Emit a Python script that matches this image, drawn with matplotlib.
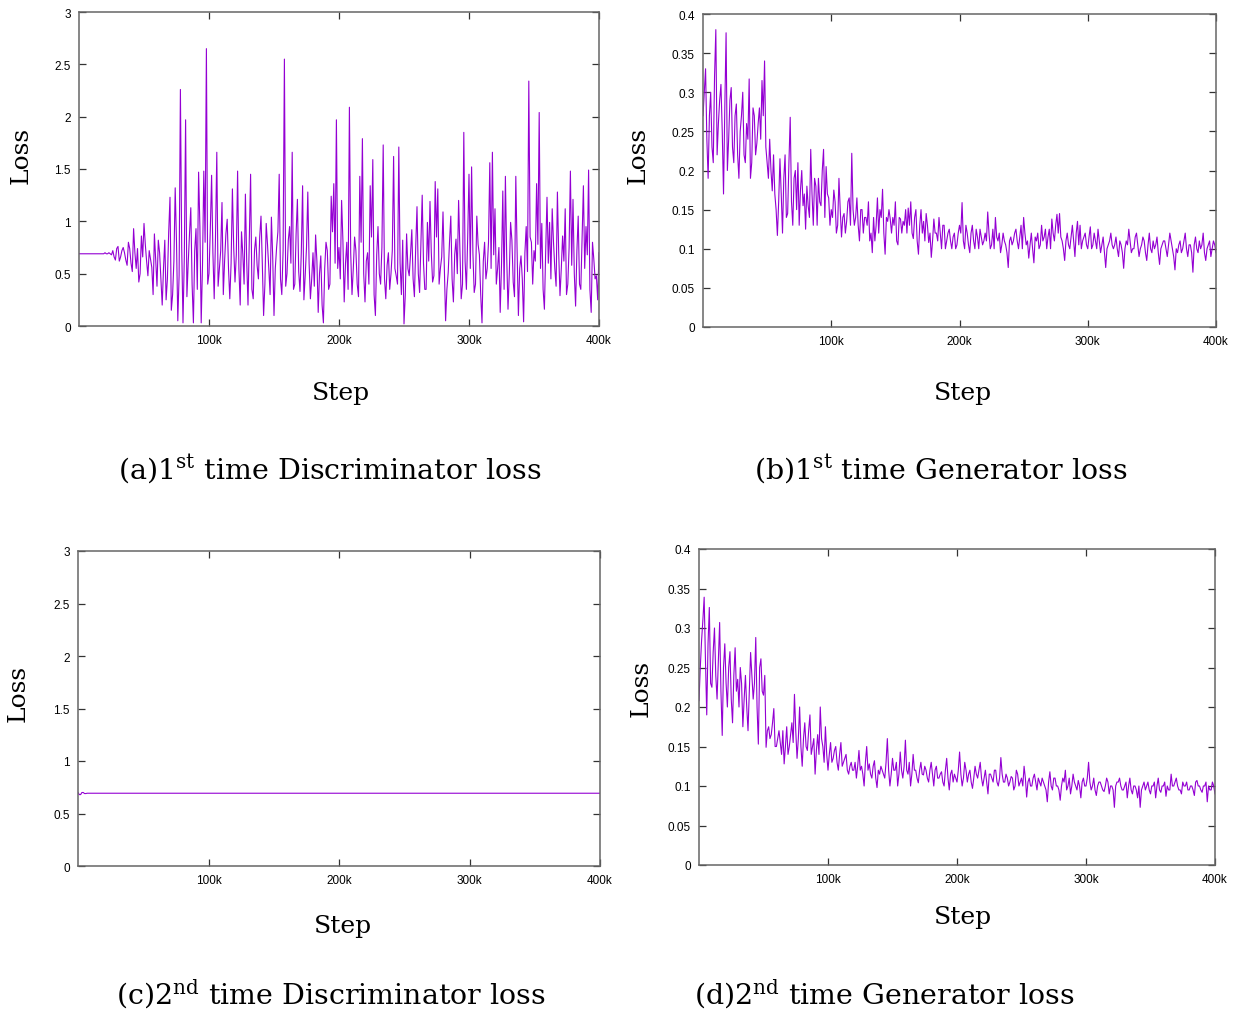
import numpy as np
import matplotlib
matplotlib.use("Agg")
import matplotlib.pyplot as plt

# ─────────────────────────────────────────
# Data
# even 2k steps in *_loss_*, the 1k in-between points in *_mid
# ─────────────────────────────────────────

steps = np.arange(0, 400001, 1000)

disc_loss_1 = [
    0.69, 0.69, 0.69, 0.69, 0.69, 0.69, 0.69, 0.69, 0.69, 0.69,
    0.70, 0.69, 0.69, 0.72, 0.63, 0.76, 0.66, 0.75, 0.63, 0.80,
    0.60, 0.93, 0.55, 0.42, 0.86, 0.98, 0.62, 0.72, 0.56, 0.88,
    0.38, 0.70, 0.20, 0.82, 0.45, 1.23, 0.30, 1.32, 0.05, 2.26,
    0.03, 1.97, 0.60, 1.13, 0.03, 0.93, 1.47, 0.03, 1.48, 2.65,
    0.50, 1.44, 0.26, 1.66, 0.55, 1.18, 0.62, 1.02, 0.26, 1.31,
    0.42, 1.48, 0.20, 0.69, 1.26, 0.20, 1.45, 0.26, 0.85, 0.45,
    1.05, 0.10, 0.98, 0.55, 1.04, 0.10, 0.75, 1.45, 0.30, 2.55,
    0.50, 0.95, 1.66, 0.40, 1.21, 0.33, 1.34, 0.48, 1.28, 0.26,
    0.70, 0.87, 0.13, 0.67, 0.03, 0.80, 0.35, 1.24, 1.36, 1.97,
    0.75, 1.20, 0.23, 0.80, 2.09, 0.30, 0.85, 0.40, 1.43, 1.79,
    0.23, 0.70, 1.34, 1.59, 0.10, 0.95, 0.40, 1.73, 0.26, 0.70,
    0.50, 1.62, 0.48, 1.71, 0.30, 0.02, 0.88, 0.48, 0.92, 0.28,
    1.14, 0.32, 1.25, 0.35, 0.99, 1.19, 0.42, 1.38, 1.31, 0.55,
    1.09, 0.05, 0.51, 1.05, 0.23, 0.83, 1.20, 0.26, 1.85, 0.35,
    1.45, 1.52, 0.32, 1.05, 0.68, 0.03, 0.80, 0.55, 1.56, 1.66,
    1.12, 0.55, 0.13, 1.29, 1.43, 0.16, 0.99, 0.42, 1.43, 0.10,
    0.67, 0.04, 0.95, 2.34, 0.80, 0.72, 1.36, 2.04, 0.98, 0.16,
    1.23, 0.99, 1.12, 0.55, 1.28, 0.29, 0.86, 1.12, 0.40, 1.48,
    1.21, 0.19, 1.05, 0.35, 1.34, 0.95, 1.49, 0.13, 0.64, 0.48,
    0.70,
]
disc_mid_1 = [
    0.69, 0.69, 0.69, 0.69, 0.69, 0.69, 0.69, 0.69, 0.69, 0.69,
    0.69, 0.70, 0.68, 0.66, 0.74, 0.62, 0.72, 0.70, 0.58, 0.74,
    0.52, 0.70, 0.74, 0.50, 0.66, 0.78, 0.48, 0.64, 0.30, 0.62,
    0.82, 0.46, 0.55, 0.25, 0.90, 0.15, 0.62, 0.80, 0.48, 0.75,
    0.65, 0.28, 0.88, 0.40, 0.72, 0.35, 0.95, 0.58, 0.80, 0.40,
    0.92, 0.70, 0.85, 0.38, 0.72, 0.30, 0.88, 0.55, 0.60, 0.75,
    0.68, 0.55, 0.90, 0.40, 0.62, 0.80, 0.35, 0.72, 0.58, 0.85,
    0.60, 0.40, 0.78, 0.30, 0.66, 0.55, 0.90, 0.45, 0.72, 0.38,
    0.82, 0.60, 0.35, 0.88, 0.52, 0.70, 0.25, 0.75, 0.60, 0.45,
    0.38, 0.62, 0.50, 0.20, 0.55, 0.72, 0.40, 0.90, 0.60, 0.55,
    0.45, 0.82, 0.60, 0.35, 0.70, 0.55, 0.72, 0.28, 0.80, 0.50,
    0.62, 0.40, 0.85, 0.30, 0.68, 0.50, 0.75, 0.45, 0.58, 0.35,
    0.72, 0.55, 0.40, 0.60, 0.82, 0.30, 0.55, 0.68, 0.45, 0.75,
    0.50, 0.78, 0.60, 0.35, 0.62, 0.70, 0.48, 0.85, 0.40, 0.66,
    0.58, 0.35, 0.80, 0.45, 0.68, 0.50, 0.72, 0.40, 0.62, 0.85,
    0.55, 0.70, 0.40, 0.78, 0.30, 0.62, 0.45, 0.80, 0.55, 0.68,
    0.40, 0.75, 0.58, 0.35, 0.66, 0.50, 0.82, 0.28, 0.72, 0.55,
    0.45, 0.70, 0.52, 0.85, 0.40, 0.62, 0.78, 0.55, 0.35, 0.72,
    0.60, 0.45, 0.80, 0.38, 0.70, 0.55, 0.62, 0.30, 0.75, 0.58,
    0.50, 0.72, 0.40, 0.85, 0.55, 0.68, 0.35, 0.80, 0.45, 0.25,
]

gen_loss_1 = [
    0.27, 0.33, 0.19, 0.30, 0.21, 0.38, 0.26, 0.31, 0.17, 0.376,
    0.24, 0.306, 0.21, 0.285, 0.19, 0.27, 0.22, 0.26, 0.317, 0.21,
    0.27, 0.235, 0.28, 0.315, 0.34, 0.21, 0.24, 0.174, 0.17, 0.117,
    0.215, 0.12, 0.22, 0.145, 0.268, 0.13, 0.20, 0.21, 0.175, 0.155,
    0.125, 0.155, 0.227, 0.13, 0.18, 0.19, 0.155, 0.227, 0.205, 0.165,
    0.15, 0.175, 0.12, 0.19, 0.115, 0.145, 0.135, 0.165, 0.222, 0.13,
    0.165, 0.11, 0.15, 0.14, 0.13, 0.11, 0.095, 0.11, 0.165, 0.15,
    0.176, 0.093, 0.135, 0.138, 0.14, 0.16, 0.105, 0.138, 0.135, 0.15,
    0.152, 0.16, 0.113, 0.15, 0.093, 0.15, 0.135, 0.145, 0.108, 0.089,
    0.138, 0.12, 0.14, 0.10, 0.13, 0.11, 0.125, 0.10, 0.12, 0.105,
    0.13, 0.159, 0.10, 0.12, 0.095, 0.13, 0.10, 0.115, 0.125, 0.105,
    0.12, 0.147, 0.10, 0.125, 0.14, 0.11, 0.095, 0.12, 0.105, 0.076,
    0.115, 0.11, 0.125, 0.10, 0.13, 0.14, 0.105, 0.088, 0.12, 0.082,
    0.11, 0.10, 0.13, 0.115, 0.10, 0.125, 0.138, 0.11, 0.144, 0.145,
    0.11, 0.085, 0.12, 0.10, 0.13, 0.09, 0.135, 0.13, 0.11, 0.12,
    0.10, 0.128, 0.105, 0.11, 0.125, 0.095, 0.115, 0.076, 0.105, 0.12,
    0.10, 0.115, 0.09, 0.105, 0.075, 0.11, 0.125, 0.095, 0.10, 0.12,
    0.09, 0.105, 0.11, 0.085, 0.12, 0.095, 0.10, 0.115, 0.08, 0.105,
    0.11, 0.09, 0.12, 0.10, 0.073, 0.095, 0.11, 0.10, 0.12, 0.09,
    0.105, 0.07, 0.115, 0.095, 0.10, 0.12, 0.085, 0.105, 0.09, 0.11,
    0.095,
]
gen_mid_1 = [
    0.30, 0.24, 0.27, 0.23, 0.32, 0.22, 0.29, 0.25, 0.28, 0.20,
    0.29, 0.23, 0.27, 0.22, 0.25, 0.30, 0.21, 0.24, 0.19, 0.28,
    0.22, 0.26, 0.24, 0.27, 0.23, 0.19, 0.20, 0.22, 0.15, 0.16,
    0.17, 0.19, 0.14, 0.21, 0.16, 0.19, 0.15, 0.13, 0.20, 0.17,
    0.18, 0.14, 0.17, 0.19, 0.13, 0.16, 0.20, 0.14, 0.17, 0.13,
    0.14, 0.16, 0.13, 0.15, 0.14, 0.12, 0.16, 0.13, 0.15, 0.14,
    0.13, 0.15, 0.12, 0.14, 0.16, 0.12, 0.14, 0.13, 0.12, 0.14,
    0.12, 0.14, 0.15, 0.12, 0.13, 0.11, 0.14, 0.12, 0.13, 0.12,
    0.13, 0.12, 0.14, 0.11, 0.13, 0.12, 0.11, 0.13, 0.12, 0.11,
    0.12, 0.11, 0.12, 0.13, 0.10, 0.12, 0.11, 0.115, 0.10, 0.12,
    0.12, 0.11, 0.13, 0.105, 0.12, 0.11, 0.125, 0.10, 0.115, 0.11,
    0.11, 0.12, 0.105, 0.10, 0.115, 0.12, 0.105, 0.11, 0.095, 0.11,
    0.105, 0.12, 0.11, 0.115, 0.10, 0.12, 0.11, 0.105, 0.10, 0.115,
    0.12, 0.105, 0.11, 0.125, 0.115, 0.10, 0.12, 0.13, 0.12, 0.115,
    0.10, 0.11, 0.105, 0.115, 0.11, 0.12, 0.105, 0.10, 0.115, 0.105,
    0.115, 0.10, 0.12, 0.10, 0.11, 0.105, 0.095, 0.10, 0.11, 0.105,
    0.105, 0.10, 0.11, 0.095, 0.10, 0.105, 0.11, 0.10, 0.115, 0.105,
    0.10, 0.115, 0.095, 0.105, 0.10, 0.11, 0.105, 0.095, 0.10, 0.11,
    0.10, 0.105, 0.11, 0.09, 0.10, 0.105, 0.095, 0.11, 0.10, 0.105,
    0.095, 0.105, 0.10, 0.11, 0.105, 0.095, 0.10, 0.11, 0.10, 0.105,
]

# second run: discriminator stuck at ln(2)
disc_loss_2 = [0.70, 0.68, 0.70, 0.69] + [0.693] * 197
disc_mid_2 = [0.68, 0.70, 0.69] + [0.693] * 197

gen_loss_2 = [
    0.208, 0.284, 0.339, 0.19, 0.326, 0.225, 0.30, 0.21, 0.307, 0.164,
    0.28, 0.20, 0.27, 0.18, 0.275, 0.235, 0.25, 0.175, 0.24, 0.17,
    0.269, 0.21, 0.288, 0.153, 0.261, 0.215, 0.149, 0.175, 0.165, 0.198,
    0.15, 0.17, 0.14, 0.128, 0.175, 0.15, 0.18, 0.216, 0.135, 0.2,
    0.125, 0.18, 0.145, 0.19, 0.15, 0.115, 0.165, 0.2, 0.15, 0.175,
    0.12, 0.155, 0.135, 0.15, 0.12, 0.155, 0.13, 0.14, 0.115, 0.13,
    0.12, 0.11, 0.145, 0.125, 0.10, 0.15, 0.128, 0.11, 0.132, 0.098,
    0.115, 0.12, 0.11, 0.16, 0.10, 0.135, 0.12, 0.10, 0.143, 0.11,
    0.158, 0.115, 0.10, 0.14, 0.12, 0.104, 0.13, 0.114, 0.12, 0.105,
    0.13, 0.10, 0.125, 0.11, 0.118, 0.10, 0.135, 0.095, 0.12, 0.115,
    0.105, 0.143, 0.10, 0.13, 0.105, 0.12, 0.097, 0.125, 0.11, 0.13,
    0.10, 0.12, 0.09, 0.115, 0.105, 0.12, 0.10, 0.136, 0.105, 0.115,
    0.10, 0.112, 0.095, 0.12, 0.10, 0.11, 0.125, 0.086, 0.11, 0.10,
    0.115, 0.095, 0.105, 0.11, 0.10, 0.08, 0.118, 0.095, 0.11, 0.10,
    0.082, 0.11, 0.12, 0.10, 0.09, 0.115, 0.10, 0.107, 0.085, 0.11,
    0.10, 0.13, 0.095, 0.11, 0.088, 0.105, 0.10, 0.093, 0.11, 0.09,
    0.10, 0.073, 0.105, 0.11, 0.095, 0.10, 0.085, 0.11, 0.09, 0.10,
    0.085, 0.073, 0.10, 0.095, 0.105, 0.09, 0.10, 0.085, 0.11, 0.092,
    0.10, 0.087, 0.095, 0.115, 0.10, 0.11, 0.095, 0.09, 0.10, 0.105,
    0.095, 0.10, 0.088, 0.107, 0.10, 0.092, 0.10, 0.08, 0.095, 0.105,
    0.09,
]
gen_mid_2 = [
    0.25, 0.31, 0.26, 0.28, 0.23, 0.27, 0.24, 0.26, 0.22, 0.25,
    0.23, 0.25, 0.21, 0.24, 0.22, 0.20, 0.23, 0.21, 0.20, 0.22,
    0.24, 0.23, 0.20, 0.25, 0.22, 0.24, 0.17, 0.16, 0.18, 0.15,
    0.16, 0.155, 0.17, 0.15, 0.14, 0.165, 0.155, 0.17, 0.16, 0.15,
    0.16, 0.15, 0.17, 0.14, 0.16, 0.145, 0.14, 0.16, 0.13, 0.14,
    0.14, 0.13, 0.145, 0.13, 0.14, 0.125, 0.135, 0.12, 0.125, 0.12,
    0.13, 0.125, 0.12, 0.115, 0.13, 0.12, 0.115, 0.125, 0.11, 0.12,
    0.125, 0.115, 0.13, 0.12, 0.115, 0.12, 0.13, 0.115, 0.12, 0.125,
    0.12, 0.13, 0.115, 0.12, 0.11, 0.12, 0.115, 0.125, 0.11, 0.12,
    0.115, 0.12, 0.11, 0.115, 0.105, 0.12, 0.11, 0.115, 0.105, 0.11,
    0.12, 0.115, 0.11, 0.12, 0.115, 0.105, 0.11, 0.115, 0.12, 0.11,
    0.11, 0.105, 0.115, 0.11, 0.12, 0.105, 0.11, 0.115, 0.105, 0.11,
    0.105, 0.11, 0.10, 0.115, 0.105, 0.10, 0.11, 0.105, 0.10, 0.11,
    0.105, 0.11, 0.10, 0.105, 0.095, 0.105, 0.10, 0.11, 0.10, 0.095,
    0.10, 0.105, 0.095, 0.11, 0.10, 0.105, 0.095, 0.10, 0.105, 0.10,
    0.11, 0.105, 0.10, 0.095, 0.10, 0.105, 0.095, 0.10, 0.105, 0.10,
    0.095, 0.10, 0.105, 0.10, 0.095, 0.105, 0.10, 0.095, 0.10, 0.095,
    0.10, 0.095, 0.105, 0.10, 0.095, 0.10, 0.105, 0.10, 0.095, 0.10,
    0.105, 0.10, 0.095, 0.10, 0.105, 0.10, 0.095, 0.105, 0.10, 0.095,
    0.10, 0.095, 0.105, 0.10, 0.095, 0.10, 0.105, 0.10, 0.095, 0.10,
]

x_ticks = [100000, 200000, 300000, 400000]
x_tick_labels = ["100k", "200k", "300k", "400k"]
disc_y_ticks = [0, 0.5, 1, 1.5, 2, 2.5, 3]
disc_y_labels = ["0", "0.5", "1", "1.5", "2", "2.5", "3"]
gen_y_ticks = [0, 0.05, 0.1, 0.15, 0.2, 0.25, 0.3, 0.35, 0.4]
gen_y_labels = ["0", "0.05", "0.1", "0.15", "0.2", "0.25", "0.3", "0.35", "0.4"]

captions = [
    r"(a)1$^{\mathrm{st}}$ time Discriminator loss",
    r"(b)1$^{\mathrm{st}}$ time Generator loss",
    r"(c)2$^{\mathrm{nd}}$ time Discriminator loss",
    r"(d)2$^{\mathrm{nd}}$ time Generator loss",
]

LINE_COLOR = "#9400D3"
SERIF = "DejaVu Serif"

plt.rcParams["font.family"] = ["Liberation Sans", "DejaVu Sans"]
plt.rcParams["mathtext.fontset"] = "dejavuserif"

W, H = 1241, 1012
fig = plt.figure(figsize=(W / 100, H / 100), dpi=100)


def merge(even, mid):
    # put the in-between readings back between the 2k readings
    out = np.empty(len(even) + len(mid))
    out[0::2] = even
    out[1::2] = mid
    return out


def px_axes(left, top, right, bottom):
    return fig.add_axes([left / W, 1 - bottom / H, (right - left) / W, (bottom - top) / H])


def style_axes(ax, yticks, ylabels, ymax):
    ax.set_xlim(0, 400000)
    ax.set_ylim(0, ymax)
    ax.set_xticks(x_ticks)
    ax.set_xticklabels(x_tick_labels)
    ax.set_yticks(yticks)
    ax.set_yticklabels(ylabels)
    ax.tick_params(direction="in", length=5, width=0.9, color="#333333",
                   labelsize=8.5, top=True, right=True, pad=6)
    for s in ax.spines.values():
        s.set_color("#666666")
        s.set_linewidth(1.1)


panels = [
    # (box in px, series, y ticks, labels, ymax, loss label pos, step pos, caption pos)
    ((79, 13, 599, 327), merge(disc_loss_1, disc_mid_1), disc_y_ticks, disc_y_labels, 3,
     (21, 155), (341, 394), (330, 469)),
    ((703, 15, 1216, 328), merge(gen_loss_1, gen_mid_1), gen_y_ticks, gen_y_labels, 0.4,
     (638, 155), (963, 394), (941, 469)),
    ((78, 552, 600, 867), merge(disc_loss_2, disc_mid_2), disc_y_ticks, disc_y_labels, 3,
     (18, 693), (343, 927), (331, 994)),
    ((699, 550, 1215, 866), merge(gen_loss_2, gen_mid_2), gen_y_ticks, gen_y_labels, 0.4,
     (641, 688), (963, 918), (884, 994)),
]

for (box, data, yt, yl, ymax, loss_pos, step_pos, cap_pos), cap in zip(panels, captions):
    ax = px_axes(*box)
    ax.plot(steps, data, color=LINE_COLOR, lw=0.8)
    style_axes(ax, yt, yl, ymax)
    fig.text(loss_pos[0] / W, 1 - loss_pos[1] / H, "Loss", rotation=90,
             ha="center", va="center", family=SERIF, fontsize=18)
    fig.text(step_pos[0] / W, 1 - step_pos[1] / H, "Step",
             ha="center", va="center", family=SERIF, fontsize=18)
    fig.text(cap_pos[0] / W, 1 - cap_pos[1] / H, cap,
             ha="center", va="center", family=SERIF, fontsize=20.5)

fig.savefig("out.png", dpi=100)
